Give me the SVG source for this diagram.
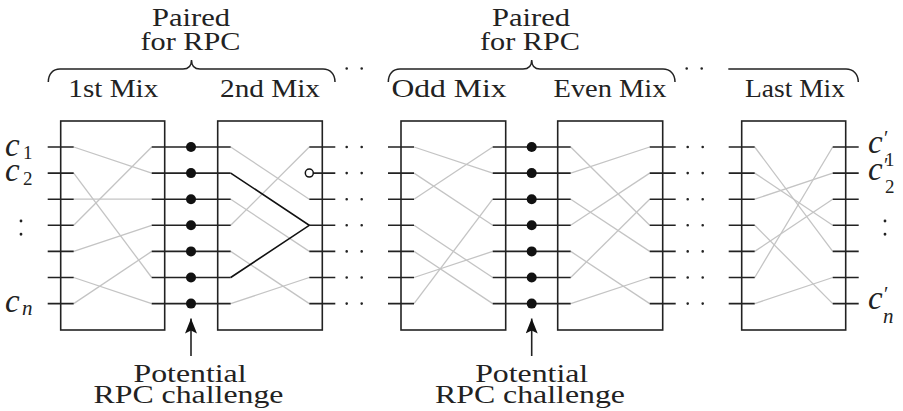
<svg xmlns="http://www.w3.org/2000/svg" width="903" height="411" viewBox="0 0 903 411">
  <style>
    .box { fill: none; stroke: #222; stroke-width: 1.6; }
    .stub { stroke: #222; stroke-width: 1.6; fill: none; }
    .wire { stroke: #c4c4c4; stroke-width: 1.3; fill: none; }
    .wire-hi { stroke: #111; stroke-width: 1.6; fill: none; }
    .ell { stroke: #222; stroke-width: 2.6; stroke-linecap: round; stroke-dasharray: 0 15; fill: none; }
    .vell { stroke: #222; stroke-width: 2.8; stroke-linecap: round; stroke-dasharray: 0 13.25; fill: none; }
    .brace { fill: none; stroke: #222; stroke-width: 1.5; }
    text { font-family: 'Liberation Serif', 'Times New Roman', Times, serif; fill: #222; }
    .lbl { font-size: 26px; text-anchor: middle; }
    .m { font-style: italic; font-size: 33px; }
    .sub { font-style: normal; font-size: 19px; }
    .subi { font-style: italic; font-size: 21px; }
    .pr { font-style: normal; font-size: 20px; }
    .dot { fill: #111; }
    .arrow { stroke: #222; stroke-width: 1.6; fill: none; }
  </style>
  <defs>
    <marker id="head" viewBox="0 0 15 12" refX="15" refY="6" markerWidth="15" markerHeight="12" markerUnits="userSpaceOnUse" orient="auto">
      <path d="M0,0 L15,6 L0,12 L3,6 Z" fill="#111"/>
    </marker>
  </defs>

  <!-- headings: braces and labels -->
  <g id="headings">
    <path class="brace" d="M48.3,82 C48.3,74 53,69 60,69 H183 C188.5,69 191.5,66 191.5,60 C191.5,66 194.5,69 200,69 H323 C330,69 335,74 335,82"/>
    <path class="brace" d="M388.3,82 C388.3,74 393,69 400,69 H523 C528.5,69 531.7,66 531.7,60 C531.7,66 534.9,69 540,69 H663 C670,69 675,74 675,82"/>
    <path class="brace" d="M728.3,69 H846 C853,69 858.3,74 858.3,82"/>
    <line class="ell" x1="346.7" y1="68.5" x2="376.7" y2="68.5"/>
    <line class="ell" x1="686.7" y1="68.5" x2="716.7" y2="68.5"/>
    <text class="lbl" x="191" y="26" textLength="78" lengthAdjust="spacingAndGlyphs">Paired</text>
    <text class="lbl" x="190.5" y="50" textLength="100" lengthAdjust="spacingAndGlyphs">for RPC</text>
    <text class="lbl" x="531" y="26" textLength="78" lengthAdjust="spacingAndGlyphs">Paired</text>
    <text class="lbl" x="530" y="50" textLength="100" lengthAdjust="spacingAndGlyphs">for RPC</text>
    <text class="lbl" x="113.3" y="96.7" textLength="90" lengthAdjust="spacingAndGlyphs">1st Mix</text>
    <text class="lbl" x="270" y="96.7" textLength="100" lengthAdjust="spacingAndGlyphs">2nd Mix</text>
    <text class="lbl" x="449" y="96.7" textLength="115" lengthAdjust="spacingAndGlyphs">Odd Mix</text>
    <text class="lbl" x="610" y="96.7" textLength="113" lengthAdjust="spacingAndGlyphs">Even Mix</text>
    <text class="lbl" x="795" y="96.7" textLength="100" lengthAdjust="spacingAndGlyphs">Last Mix</text>
  </g>

  <!-- input / output ciphertext labels -->
  <g id="inputs">
    <text class="m" x="5" y="155.5">c<tspan class="sub" x="23" y="158.5">1</tspan></text>
    <text class="m" x="5" y="181">c<tspan class="sub" x="23" y="184.5">2</tspan></text>
    <line class="vell" x1="21" y1="221" x2="21" y2="247.5"/>
    <text class="m" x="5" y="311.5">c<tspan class="subi" x="22" y="315">n</tspan></text>
  </g>
  <g id="outputs">
    <text class="m" x="868" y="153">c<tspan class="pr" x="884" y="145">′</tspan><tspan class="sub" x="885" y="166">1</tspan></text>
    <text class="m" x="868" y="180">c<tspan class="pr" x="884" y="172">′</tspan><tspan class="sub" x="885" y="193">2</tspan></text>
    <line class="vell" x1="885" y1="221" x2="885" y2="247.5"/>
    <text class="m" x="868" y="309">c<tspan class="pr" x="884" y="301">′</tspan><tspan class="subi" x="883" y="323">n</tspan></text>
  </g>

  <!-- mix boxes with their internal permutations -->
  <g id="mix1">
    <rect class="box" x="60.7" y="121" width="104" height="209"/>
    <g class="wire">
      <line x1="73.7" y1="147" x2="151.7" y2="173.1"/>
      <line x1="73.7" y1="173.1" x2="151.7" y2="277.5"/>
      <line x1="73.7" y1="199.2" x2="151.7" y2="199.2"/>
      <line x1="73.7" y1="225.3" x2="151.7" y2="147"/>
      <line x1="73.7" y1="251.4" x2="151.7" y2="225.3"/>
      <line x1="73.7" y1="277.5" x2="151.7" y2="303.6"/>
      <line x1="73.7" y1="303.6" x2="151.7" y2="251.4"/>
    </g>
  </g>
  <g id="mix2">
    <rect class="box" x="217.7" y="121" width="104.6" height="209"/>
    <g class="wire">
      <line x1="230.7" y1="147" x2="309.3" y2="199.2"/>
      <line x1="230.7" y1="199.2" x2="309.3" y2="251.4"/>
      <line x1="230.7" y1="225.3" x2="309.3" y2="147"/>
      <line x1="230.7" y1="251.4" x2="309.3" y2="303.6"/>
      <line x1="230.7" y1="303.6" x2="309.3" y2="277.5"/>
    </g>
    <polyline class="wire-hi" points="230.7,173.1 309.3,225.3 230.7,277.5"/>
  </g>
  <g id="mix-odd">
    <rect class="box" x="401" y="121" width="104.7" height="209"/>
    <g class="wire">
      <line x1="414" y1="147" x2="492.7" y2="173.1"/>
      <line x1="414" y1="173.1" x2="492.7" y2="225.3"/>
      <line x1="414" y1="199.2" x2="492.7" y2="147"/>
      <line x1="414" y1="225.3" x2="492.7" y2="277.5"/>
      <line x1="414" y1="251.4" x2="492.7" y2="303.6"/>
      <line x1="414" y1="277.5" x2="492.7" y2="251.4"/>
      <line x1="414" y1="303.6" x2="492.7" y2="199.2"/>
    </g>
  </g>
  <g id="mix-even">
    <rect class="box" x="557.7" y="121" width="105" height="209"/>
    <g class="wire">
      <line x1="570.7" y1="147" x2="649.7" y2="225.3"/>
      <line x1="570.7" y1="173.1" x2="649.7" y2="147"/>
      <line x1="570.7" y1="199.2" x2="649.7" y2="251.4"/>
      <line x1="570.7" y1="225.3" x2="649.7" y2="173.1"/>
      <line x1="570.7" y1="251.4" x2="649.7" y2="303.6"/>
      <line x1="570.7" y1="277.5" x2="649.7" y2="199.2"/>
      <line x1="570.7" y1="303.6" x2="649.7" y2="277.5"/>
    </g>
  </g>
  <g id="mix-last">
    <rect class="box" x="741.7" y="121" width="104" height="209"/>
    <g class="wire">
      <line x1="754.7" y1="147" x2="832.7" y2="251.4"/>
      <line x1="754.7" y1="173.1" x2="832.7" y2="225.3"/>
      <line x1="754.7" y1="199.2" x2="832.7" y2="173.1"/>
      <line x1="754.7" y1="225.3" x2="832.7" y2="303.6"/>
      <line x1="754.7" y1="251.4" x2="832.7" y2="199.2"/>
      <line x1="754.7" y1="277.5" x2="832.7" y2="147"/>
      <line x1="754.7" y1="303.6" x2="832.7" y2="277.5"/>
    </g>
  </g>

  <!-- row connectors between the mixes -->
  <g id="connectors">
    <path class="stub" d="M47.7,147H73.7 M47.7,173.1H73.7 M47.7,199.2H73.7 M47.7,225.3H73.7 M47.7,251.4H73.7 M47.7,277.5H73.7 M47.7,303.6H73.7"/>
    <path class="stub" d="M151.7,147H230.7 M151.7,173.1H230.7 M151.7,199.2H230.7 M151.7,225.3H230.7 M151.7,251.4H230.7 M151.7,277.5H230.7 M151.7,303.6H230.7"/>
    <path class="stub" d="M309.3,147H335.3 M313.3,173.1H335.3 M309.3,199.2H335.3 M309.3,225.3H335.3 M309.3,251.4H335.3 M309.3,277.5H335.3 M309.3,303.6H335.3"/>
    <circle cx="309.3" cy="173.1" r="4" fill="#fff" stroke="#111" stroke-width="1.5"/>
    <g class="ell">
      <line x1="346.7" y1="147" x2="376.7" y2="147"/>
      <line x1="346.7" y1="173.1" x2="376.7" y2="173.1"/>
      <line x1="346.7" y1="199.2" x2="376.7" y2="199.2"/>
      <line x1="346.7" y1="225.3" x2="376.7" y2="225.3"/>
      <line x1="346.7" y1="251.4" x2="376.7" y2="251.4"/>
      <line x1="346.7" y1="277.5" x2="376.7" y2="277.5"/>
      <line x1="346.7" y1="303.6" x2="376.7" y2="303.6"/>
    </g>
    <path class="stub" d="M388,147H414 M388,173.1H414 M388,199.2H414 M388,225.3H414 M388,251.4H414 M388,277.5H414 M388,303.6H414"/>
    <path class="stub" d="M492.7,147H570.7 M492.7,173.1H570.7 M492.7,199.2H570.7 M492.7,225.3H570.7 M492.7,251.4H570.7 M492.7,277.5H570.7 M492.7,303.6H570.7"/>
    <path class="stub" d="M649.7,147H675.7 M649.7,173.1H675.7 M649.7,199.2H675.7 M649.7,225.3H675.7 M649.7,251.4H675.7 M649.7,277.5H675.7 M649.7,303.6H675.7"/>
    <g class="ell">
      <line x1="687.7" y1="147" x2="717.7" y2="147"/>
      <line x1="687.7" y1="173.1" x2="717.7" y2="173.1"/>
      <line x1="687.7" y1="199.2" x2="717.7" y2="199.2"/>
      <line x1="687.7" y1="225.3" x2="717.7" y2="225.3"/>
      <line x1="687.7" y1="251.4" x2="717.7" y2="251.4"/>
      <line x1="687.7" y1="277.5" x2="717.7" y2="277.5"/>
      <line x1="687.7" y1="303.6" x2="717.7" y2="303.6"/>
    </g>
    <path class="stub" d="M728.7,147H754.7 M728.7,173.1H754.7 M728.7,199.2H754.7 M728.7,225.3H754.7 M728.7,251.4H754.7 M728.7,277.5H754.7 M728.7,303.6H754.7"/>
    <path class="stub" d="M832.7,147H858.7 M832.7,173.1H858.7 M832.7,199.2H858.7 M832.7,225.3H858.7 M832.7,251.4H858.7 M832.7,277.5H858.7 M832.7,303.6H858.7"/>
  </g>

  <!-- challenge points between paired mixes -->
  <g id="challenge1">
    <g class="dot">
      <circle cx="191" cy="147" r="5"/>
      <circle cx="191" cy="173.1" r="5"/>
      <circle cx="191" cy="199.2" r="5"/>
      <circle cx="191" cy="225.3" r="5"/>
      <circle cx="191" cy="251.4" r="5"/>
      <circle cx="191" cy="277.5" r="5"/>
      <circle cx="191" cy="303.6" r="5"/>
    </g>
    <line class="arrow" x1="191" y1="356" x2="191" y2="318.5" marker-end="url(#head)"/>
    <text class="lbl" x="190" y="381.5" textLength="113" lengthAdjust="spacingAndGlyphs">Potential</text>
    <text class="lbl" x="188.5" y="403" textLength="190" lengthAdjust="spacingAndGlyphs">RPC challenge</text>
  </g>
  <g id="challenge2">
    <g class="dot">
      <circle cx="531.7" cy="147" r="5"/>
      <circle cx="531.7" cy="173.1" r="5"/>
      <circle cx="531.7" cy="199.2" r="5"/>
      <circle cx="531.7" cy="225.3" r="5"/>
      <circle cx="531.7" cy="251.4" r="5"/>
      <circle cx="531.7" cy="277.5" r="5"/>
      <circle cx="531.7" cy="303.6" r="5"/>
    </g>
    <line class="arrow" x1="531.7" y1="356" x2="531.7" y2="318.5" marker-end="url(#head)"/>
    <text class="lbl" x="531.7" y="381.5" textLength="113" lengthAdjust="spacingAndGlyphs">Potential</text>
    <text class="lbl" x="530" y="403" textLength="190" lengthAdjust="spacingAndGlyphs">RPC challenge</text>
  </g>
</svg>
